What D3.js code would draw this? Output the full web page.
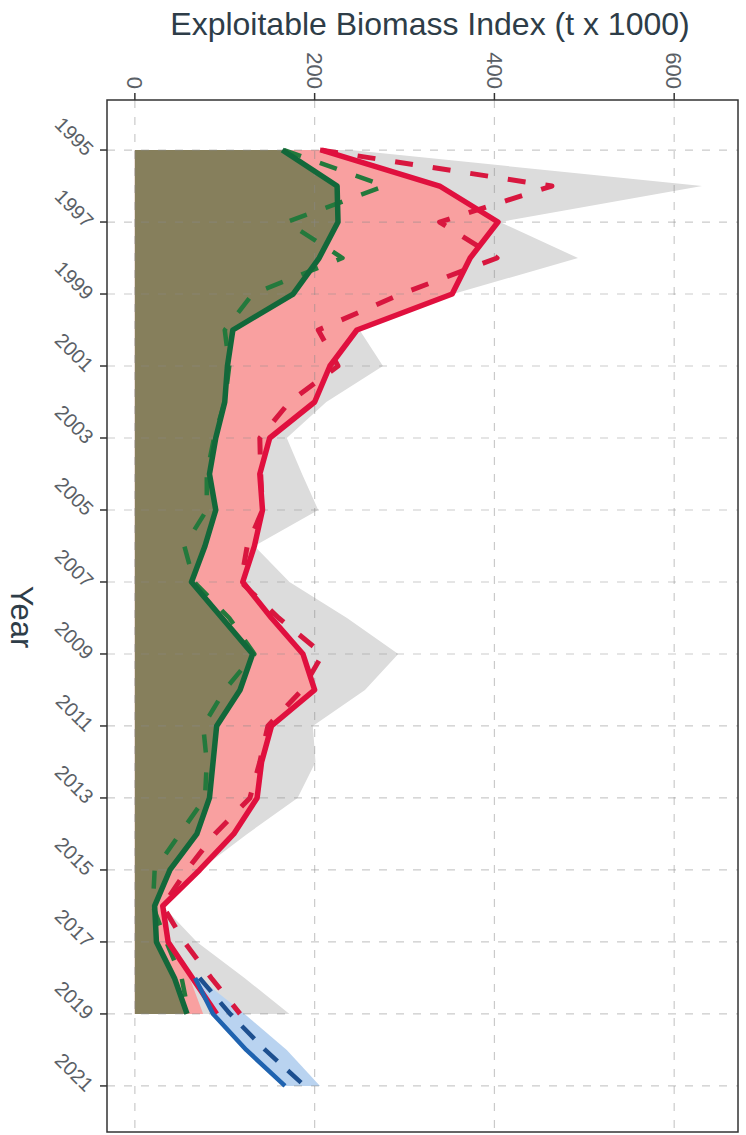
<!DOCTYPE html>
<html>
<head>
<meta charset="utf-8">
<script src="https://cdn.jsdelivr.net/npm/d3@7"></script>
<style>
  body { margin: 0; background: #fff; }
  text { font-family: Arial, "Liberation Sans", sans-serif; }
</style>
</head>
<body>
<script>
// values (t x 1000)
let years = [1995,1996,1997,1998,1999,2000,2001,2002,2003,2004,2005,2006,2007,2008,2009,2010,2011,2012,2013,2014,2015,2016,2017,2018,2019];
let greenSolid = [164,225,226,205,176,109,103,100,90,83,90,78,63,97,131,117,91,87,83,69,39,22,24,44,58];
let greenDashed = [166,278,169,231,131,100,105,100,88,80,80,55,66,105,133,100,76,80,78,50,22,20,35,52,60];
let redSolid = [208,339,404,373,353,247,217,200,150,139,142,133,120,152,187,200,152,141,136,110,72,31,37,64,91];
let redDashed = [206,464,339,403,296,204,226,172,139,140,142,125,118,160,209,186,148,139,128,89,58,31,55,85,117];
let pinkUpper = [208,339,404,373,353,247,217,200,150,139,142,133,120,152,187,200,152,141,136,110,72,31,37,61,76];
let grayUpper = [240,631,406,493,354,250,276,213,169,186,204,133,172,236,293,256,198,201,181,125,72,31,69,122,172];

let projYears = [2018,2019,2020,2021];
let blueSolid = [67,87,124,167];
let blueDashed = [72,106,145,189];
let blueUpper = [72,122,169,206];

let xTicks = [0,200,400,600];
let yearTicks = [1995,1997,1999,2001,2003,2005,2007,2009,2011,2013,2015,2017,2019,2021];

let width = 746, height = 1135;
let margin = {top:100, left:107, right:8, bottom:3};

let svg = d3.select("body").append("svg").attr("width",width).attr("height",height);

let x = d3.scaleLinear().domain([-31,671]).range([margin.left, width-margin.right]);
let y = d3.scaleLinear().domain([1993.61,2022.28]).range([margin.top, height-margin.bottom]);

let main = years.map((yr,i)=>({yr:yr, g:greenSolid[i], gd:greenDashed[i], r:redSolid[i], rd:redDashed[i], p:pinkUpper[i], gr:grayUpper[i]}));
let proj = projYears.map((yr,i)=>({yr:yr, s:blueSolid[i], d:blueDashed[i], u:blueUpper[i]}));

let area = (lo,hi)=>d3.area().y(d=>y(d.yr)).x0(lo).x1(hi);

// fills
svg.append("path").datum(main).attr("fill","#dcdcdc")
  .attr("d", area(d=>x(0), d=>x(d.gr)));
svg.append("path").datum(main).attr("fill","#f9a0a0")
  .attr("d", area(d=>x(0), d=>x(d.p)));
svg.append("path").datum(main).attr("fill","#867f5c")
  .attr("d", area(d=>x(0), d=>x(d.g)));
svg.append("path").datum(proj).attr("fill","#b9d3f0")
  .attr("d", area(d=>x(d.s), d=>x(d.u)));

// grid
let grid = svg.append("g").attr("stroke","#8a8a8a").attr("stroke-opacity",0.45)
  .attr("stroke-width",1.2).attr("stroke-dasharray","8,9");
grid.selectAll(".v").data(xTicks).join("line")
  .attr("x1",d=>x(d)).attr("x2",d=>x(d)).attr("y1",margin.top).attr("y2",height-margin.bottom);
grid.selectAll(".h").data(yearTicks).join("line")
  .attr("y1",d=>y(d)).attr("y2",d=>y(d)).attr("x1",margin.left).attr("x2",width-margin.right);

// lines
let line = (f)=>d3.line().y(d=>y(d.yr)).x(f);
function draw(data, f, color, w, dash){
  svg.append("path").datum(data).attr("fill","none").attr("stroke",color)
    .attr("stroke-width",w).attr("stroke-linejoin","round")
    .attr("stroke-dasharray",dash).attr("d",line(f));
}
draw(main, d=>x(d.gd), "#23793c", 4.5, "18,20");
draw(main, d=>x(d.rd), "#d8173f", 5, "18,20");
draw(main, d=>x(d.r), "#e0103e", 5.5, null);
draw(main, d=>x(d.g), "#12683a", 5.5, null);
draw(proj, d=>x(d.d), "#1d4f8f", 4.5, "18,14");
draw(proj, d=>x(d.s), "#1f63b0", 4.5, null);

// frame and ticks
svg.append("rect").attr("x",margin.left).attr("y",margin.top)
  .attr("width",width-margin.right-margin.left).attr("height",height-margin.bottom-margin.top)
  .attr("fill","none").attr("stroke","#333").attr("stroke-width",1.5);

svg.selectAll(".xt").data(xTicks).join("line")
  .attr("x1",d=>x(d)).attr("x2",d=>x(d)).attr("y1",margin.top-7).attr("y2",margin.top)
  .attr("stroke","#333").attr("stroke-width",1.5);
svg.selectAll(".xl").data(xTicks).join("text")
  .attr("transform",d=>`translate(${x(d)},${margin.top-11}) rotate(90)`)
  .attr("text-anchor","end").attr("dy","0.35em")
  .attr("font-size",22).attr("fill","#5a6066").text(d=>d);

svg.selectAll(".yt").data(yearTicks).join("line")
  .attr("y1",d=>y(d)).attr("y2",d=>y(d)).attr("x1",margin.left-7).attr("x2",margin.left)
  .attr("stroke","#333").attr("stroke-width",1.5);
svg.selectAll(".yl").data(yearTicks).join("text")
  .attr("transform",d=>`translate(${margin.left-22},${y(d)+7}) rotate(45)`)
  .attr("text-anchor","end")
  .attr("font-size",20).attr("fill","#5a6066").text(d=>d);

// titles
svg.append("text").attr("x",430).attr("y",35).attr("text-anchor","middle")
  .attr("font-size",32).attr("fill","#2e3d48").text("Exploitable Biomass Index (t x 1000)");
svg.append("text").attr("transform","translate(22,617) rotate(90)")
  .attr("text-anchor","middle").attr("dy","0.35em")
  .attr("font-size",31).attr("fill","#2e3d48").text("Year");
</script>
</body>
</html>
